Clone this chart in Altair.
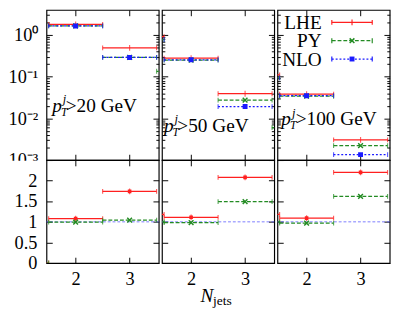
import altair as alt
import pandas as pd

PANELS = ["20", "50", "100"]
NJETS = [1, 2, 3, 4]

# cross sections (top, log scale)
LHE_XS = {"20": [None, 1.80, 0.49, None], "50": [0.92, 0.279, 0.039, None], "100": [0.111, 0.038, 0.00304, None]}
PY_XS = {"20": [None, 1.65, 0.29, 0.135], "50": [0.78, 0.25, 0.0275, 0.006], "100": [0.094, 0.034, 0.00221, None]}
NLO_XS = {"20": [None, 1.65, 0.29, None], "50": [0.78, 0.255, 0.0192, None], "100": [0.094, 0.035, 0.00135, None]}

# ratios to NLO (bottom)
LHE_R = {"20": [0.0, 1.08, 1.74, None], "50": [1.18, 1.11, 2.08, None], "100": [1.18, 1.09, 2.20, None]}
PY_R = {"20": [0.0, 0.995, 1.04, None], "50": [1.0, 0.98, 1.49, None], "100": [1.0, 0.97, 1.62, None]}

SERIES = ["LHE", "PY", "NLO"]
COLORS = {"LHE": "#ff2020", "PY": "#238b23", "NLO": "#1a1aff"}
DASH = {"LHE": None, "PY": [4, 2], "NLO": [2, 2]}
XPATH = "M-1,-1L1,1M-1,1L1,-1"
FONT = "Liberation Serif"

W = 350 / 3
HT = 156
HB = 107

def build(tabs):
    rows = []
    for p in PANELS:
        for s, tab in tabs:
            for n, v in zip(NJETS, tab[p]):
                if v is not None:
                    rows.append(dict(panel=p, series=s, n=n, lo=n - 0.5, hi=n + 0.5, v=v))
    return pd.DataFrame(rows)

top_df = build([("LHE", LHE_XS), ("PY", PY_XS), ("NLO", NLO_XS)])
rat_df = build([("LHE", LHE_R), ("PY", PY_R)])

xs = alt.Scale(domain=[1.46, 3.54], nice=False, zero=False)
ys_top = alt.Scale(type="log", domain=[0.001, 4], nice=False)
ys_rat = alt.Scale(domain=[0, 2.5], nice=False, zero=False)

TOP_MAJ = [0.001, 0.01, 0.1, 1]
TOP_MIN = [k * 10.0 ** e for e in [-3, -2, -1, 0] for k in range(2, 10) if k * 10.0 ** e < 4]
RAT_MAJ = [0, 0.5, 1, 1.5, 2]
XT = [2, 3]

dummy = pd.DataFrame({"x": [2.0], "y": [1.0]})


def series_layers(df, s, ys, ratio):
    c = COLORS[s]
    base = alt.Chart(df)
    Y = alt.Y("v:Q", scale=ys, axis=None)
    kw = dict(color=c, strokeWidth=1.3, clip=True)
    if DASH[s]:
        kw["strokeDash"] = DASH[s]
    layers = [
        base.mark_rule(**kw).encode(x=alt.X("lo:Q", scale=xs, axis=None), x2="hi:Q", y=Y),
        base.mark_tick(orient="vertical", color=c, size=5, thickness=1.2, clip=True).encode(
            x=alt.X("lo:Q", scale=xs, axis=None), y=Y),
        base.mark_tick(orient="vertical", color=c, size=5, thickness=1.2, clip=True).encode(
            x=alt.X("hi:Q", scale=xs, axis=None), y=Y),
    ]
    if s == "LHE":
        layers.append(base.mark_tick(orient="vertical", color=c, size=6, thickness=1.2, clip=True).encode(
            x=alt.X("n:Q", scale=xs, axis=None), y=Y))
        if ratio:
            layers.append(base.mark_point(shape="square", size=14, filled=True, color=c, opacity=1, clip=True).encode(
                x=alt.X("n:Q", scale=xs, axis=None), y=Y))
    elif s == "PY":
        layers.append(base.mark_point(shape=XPATH, size=24, filled=False, strokeWidth=1.5, color=c, opacity=1, clip=True).encode(
            x=alt.X("n:Q", scale=xs, axis=None), y=Y))
    else:
        layers.append(base.mark_point(shape="square", size=26, filled=True, color=c, opacity=1, clip=True).encode(
            x=alt.X("n:Q", scale=xs, axis=None), y=Y))
    return layers


def ax(**k):
    d = dict(title=None, grid=False, domain=False, labels=False)
    d.update(k)
    return alt.Axis(**d)


def axis_layers(ys, H, majors, minors, first, bottom):
    L = []
    pt = alt.Chart(dummy).mark_point(opacity=0)
    L.append(pt.encode(
        x=alt.X("x:Q", scale=xs, axis=ax(orient="top", offset=-H, values=XT, tickSize=6)),
        y=alt.Y("y:Q", scale=ys, axis=ax(orient="right", offset=-W, values=majors, tickSize=6))))
    L.append(pt.encode(
        x=alt.X("x:Q", scale=xs, axis=ax(orient="bottom", offset=-H, values=XT, tickSize=6)),
        y=alt.Y("y:Q", scale=ys, axis=ax(orient="left", offset=-W, values=majors, tickSize=6))))
    if minors:
        L.append(pt.encode(
            x=alt.X("x:Q", scale=xs, axis=None),
            y=alt.Y("y:Q", scale=ys, axis=ax(orient="right", offset=-W, values=minors, tickSize=3))))
        L.append(pt.encode(
            x=alt.X("x:Q", scale=xs, axis=None),
            y=alt.Y("y:Q", scale=ys, axis=ax(orient="left", offset=-W, values=minors, tickSize=3))))
    if first or bottom:
        if first:
            if minors:
                yax = ax(orient="left", values=majors, labels=True, ticks=False, tickSize=0, labelPadding=9,
                         labelExpr="round(log(datum.value)/LN10) == 0 ? '10⁰' : round(log(datum.value)/LN10) == -1 ? '10⁻¹' : round(log(datum.value)/LN10) == -2 ? '10⁻²' : '10⁻³'")
            else:
                yax = ax(orient="left", values=majors, labels=True, ticks=False, tickSize=0, labelPadding=10, format="~g")
        else:
            yax = None
        xax = ax(orient="bottom", values=XT, labels=True, ticks=False, tickSize=0, labelPadding=7, format="d") if bottom else None
        L.append(pt.encode(x=alt.X("x:Q", scale=xs, axis=xax), y=alt.Y("y:Q", scale=ys, axis=yax)))
    return L


def txt(t, x, y, size=20, style="normal", align="left"):
    return alt.Chart(dummy).mark_text(text=t, font=FONT, fontSize=size, fontStyle=style, align=align,
                                      baseline="alphabetic", color="black").encode(
        x=alt.value(x), y=alt.value(y))


# panel annotation positions: (p x, baseline y, ">" x, text)
ANNOT = {"20": (6, 106, 20, ">20 GeV"), "50": (2, 127, 16, ">50  GeV"), "100": (4, 120, 19, ">100  GeV")}


def annot(p):
    px, by, gx, t = ANNOT[p]
    return [txt("p", px, by, 20, "italic"), txt("j", px + 11, by - 9, 13, "italic"),
            txt("T", px + 9, by + 4, 12, "italic"), txt(t, gx, by, 20)]


def legend_layers():
    L = []
    for i, s in enumerate(SERIES):
        yy = 13 + 19 * i
        c = COLORS[s]
        one = alt.Chart(dummy)
        L.append(one.mark_text(text=s, font=FONT, fontSize=20, align="right", baseline="middle", color="black").encode(
            x=alt.value(46), y=alt.value(yy + 1)))
        kw = dict(color=c, strokeWidth=1.3)
        if DASH[s]:
            kw["strokeDash"] = DASH[s]
        L.append(one.mark_rule(**kw).encode(x=alt.value(56.5), x2=alt.value(98.5), y=alt.value(yy)))
        for xx in (56.5, 98.5):
            L.append(one.mark_rule(color=c, strokeWidth=1.2).encode(x=alt.value(xx), y=alt.value(yy - 2.5), y2=alt.value(yy + 2.5)))
        if s == "LHE":
            L.append(one.mark_rule(color=c, strokeWidth=1.2).encode(x=alt.value(77.5), y=alt.value(yy - 3), y2=alt.value(yy + 3)))
        elif s == "PY":
            L.append(one.mark_point(shape=XPATH, size=24, filled=False, strokeWidth=1.5, color=c, opacity=1).encode(
                x=alt.value(77.5), y=alt.value(yy)))
        else:
            L.append(one.mark_point(shape="square", size=26, filled=True, color=c, opacity=1).encode(
                x=alt.value(77.5), y=alt.value(yy)))
    return L


cols = []
for i, p in enumerate(PANELS):
    layers = axis_layers(ys_top, HT, TOP_MAJ, TOP_MIN, i == 0, False)
    for s in SERIES:
        layers += series_layers(top_df[(top_df.panel == p) & (top_df.series == s)], s, ys_top, False)
    layers += annot(p)
    if i == 2:
        layers += legend_layers()
    top = alt.layer(*layers).resolve_axis(x="independent", y="independent").properties(width=W, height=HT)

    blayers = axis_layers(ys_rat, HB, RAT_MAJ, None, i == 0, True)
    blayers.append(alt.Chart(pd.DataFrame({"one": [1.0]})).mark_rule(color="#5a5aff", strokeWidth=0.8, strokeDash=[3, 2]).encode(
        y=alt.Y("one:Q", scale=ys_rat, axis=None)))
    for s in ["LHE", "PY"]:
        blayers += series_layers(rat_df[(rat_df.panel == p) & (rat_df.series == s)], s, ys_rat, True)
    if i == 0:
        blayers.append(alt.Chart(dummy).mark_rect(color="white").encode(
            x=alt.value(-46), x2=alt.value(-1.5), y=alt.value(0.8), y2=alt.value(11)))
    if i == 1:
        blayers.append(txt("N", 40, 147, 20, "italic"))
        blayers.append(txt("jets", 53, 151, 14))
    bot = alt.layer(*blayers).resolve_axis(x="independent", y="independent").properties(width=W, height=HB)
    cols.append(alt.vconcat(top, bot, spacing=0, bounds="flush"))

chart = alt.hconcat(*cols, spacing=0).properties(
    padding={"left": -7, "top": -6, "right": 0, "bottom": 0}, background="white"
).configure_view(stroke="black", strokeWidth=1.2).configure_axis(
    labelFont=FONT, labelFontSize=19, labelColor="black", tickColor="black", tickWidth=1
)

chart.save("out.html", embed_options={"renderer": "svg", "actions": False})
